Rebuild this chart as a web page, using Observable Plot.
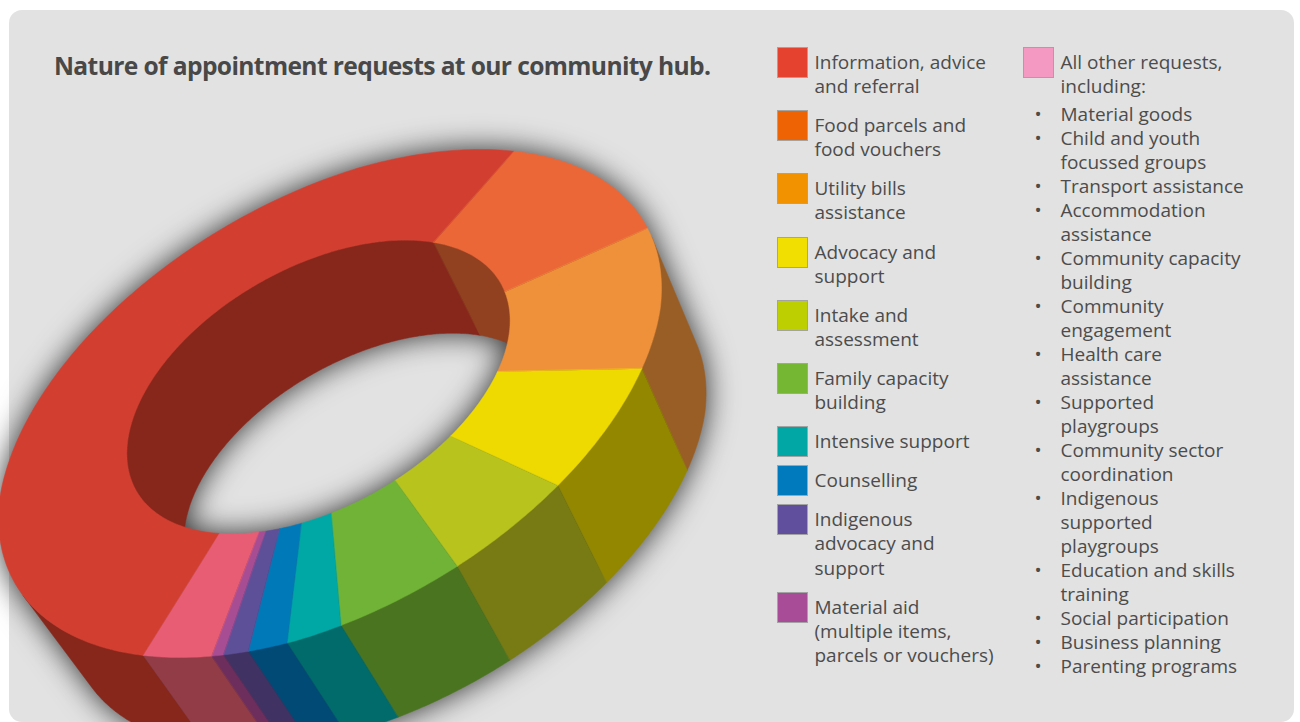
<!DOCTYPE html>
<html>
<head>
<meta charset="utf-8">
<script src="https://cdn.jsdelivr.net/npm/d3@7"></script>
<script src="https://cdn.jsdelivr.net/npm/@observablehq/plot@0.6"></script>
<style>
  html, body { margin: 0; padding: 0; background: #fff; }
  #page { position: relative; width: 1300px; height: 722px; overflow: hidden; font-family: "Open Sans", sans-serif; color: #4c4c4c; }
  #panel { position: absolute; left: 9px; top: 10px; width: 1285px; height: 712px; background: #e2e2e2; border-radius: 13px; }
  #chart { position: absolute; left: 0; top: 0; }
  #title { position: absolute; left: 54px; top: 48px; margin: 0; font-size: 24.6px; line-height: 36px; font-weight: 700; letter-spacing: -0.62px; white-space: nowrap; color: #484848; }
  .legend { position: absolute; top: 50px; font-size: 19px; }
  .item { position: relative; margin-bottom: 15px; white-space: pre-line; }
  .swatch { position: absolute; left: -38px; top: -3px; width: 29px; height: 29px; border: 1.5px solid #a3a3a3; }
  #col1 { left: 814.5px; width: 200px; line-height: 24.1px; }
  #col2 { left: 1060.5px; width: 235px; line-height: 24px; }
  #col2 .item { margin-bottom: 4px; }
  #others { list-style: none; margin: 0; padding: 0; }
  #others li { position: relative; white-space: pre-line; }
  #others li::before { content: "•"; position: absolute; left: -26px; font-size: 19px; }
</style>
</head>
<body>
<div id="page">
  <div id="panel"></div>
  <div id="chart"></div>
  <h1 id="title"></h1>
  <div class="legend" id="col1"></div>
  <div class="legend" id="col2"></div>
</div>
<script>
// Appointment request categories, clockwise round the ring
const categories = [
  "Information, advice\nand referral",
  "Food parcels and\nfood vouchers",
  "Utility bills\nassistance",
  "Advocacy and\nsupport",
  "Intake and\nassessment",
  "Family capacity\nbuilding",
  "Intensive support",
  "Counselling",
  "Indigenous\nadvocacy and\nsupport",
  "Material aid\n(multiple items,\nparcels or vouchers)",
  "All other requests,\nincluding:"
];
// Share of all requests, in percent
const shares = [49.85, 11.0, 9.9, 7.5, 5.9, 5.8, 2.6, 1.9, 1.25, 0.6, 3.7];

const swatchColors = ["#e5432f", "#ee6405", "#f39200", "#f0df00", "#bdcf00", "#75b632", "#00a7a4", "#0079bd", "#5f4f9d", "#a84c97", "#f49ac2"];
const topColors = ["#d23f31", "#ec6738", "#ef913b", "#eeda00", "#b8c31e", "#70b336", "#00a8a5", "#0079b9", "#5e4f99", "#a64d94", "#e85d73"];
const wallColors = ["#87271b", "#914120", "#985e26", "#938700", "#787b14", "#4b7421", "#006b6a", "#004a75", "#403262", "#6d2e5d", "#913c46"];

const otherRequests = [
  "Material goods",
  "Child and youth\nfocussed groups",
  "Transport assistance",
  "Accommodation\nassistance",
  "Community capacity\nbuilding",
  "Community\nengagement",
  "Health care\nassistance",
  "Supported\nplaygroups",
  "Community sector\ncoordination",
  "Indigenous\nsupported\nplaygroups",
  "Education and skills\ntraining",
  "Social participation",
  "Business planning",
  "Parenting programs"
];

const titleText = "Nature of appointment requests at our community hub.";

// Tilted-disc view: the two ring ellipses plus a vanishing point for the extrusion
const view = {
  start: 124.3,
  outer: {cx: 329.5, cy: 403, scale: 1},
  inner: {cx: 318, cy: 386.5, scale: 0.578},
  axisX: 331.5, shear: -115, axisY: 226.5,
  vanish: [1804, 2976],
  outerDepth: 0.039,
  innerDepth: 0.034
};

const rad = Math.PI / 180;

function onEllipse(e, deg, radial = 1) {
  const u = radial * Math.cos(deg * rad), v = radial * Math.sin(deg * rad);
  return [
    e.cx + e.scale * view.axisX * u,
    e.cy + e.scale * (view.shear * u + view.axisY * v)
  ];
}
// The near edge of the disc is a touch flatter than a true ellipse
const outerPoint = (deg) => onEllipse(view.outer, deg, 1 - 0.011 * Math.max(0, Math.cos(2 * (deg - 50) * rad)));
// Slice edges converge off-centre, so the inner rim angle drifts a little
const innerPoint = (deg) => onEllipse(view.inner, deg + 3.4 * Math.cos((deg + 35) * rad));
const extrude = ([x, y], k) => [x + k * (view.vanish[0] - x), y + k * (view.vanish[1] - y)];

// Turn the shares into slice angle spans
const total = d3.sum(shares);
let cursor = view.start;
const spans = shares.map((s) => {
  const from = cursor;
  cursor += (s / total) * 360;
  return [from, cursor];
});

function arcAngles([from, to], step) {
  const n = Math.max(2, Math.ceil((to - from) / step));
  return d3.range(n + 1).map((i) => from + ((to - from) * i) / n);
}

const rows = [];
function addPolygon(id, fill, pts) {
  pts.forEach(([x, y]) => rows.push({id, fill, x, y}));
}

// One wall polygon per slice, limited to the part of the arc that faces the viewer
function addWall(id, fill, angles, rim, depth, facing) {
  const kept = new Set();
  d3.pairs(angles).forEach(([a, b]) => {
    const pa = rim(a), pb = rim(b);
    const quad = [pa, pb, extrude(pb, depth), extrude(pa, depth)];
    if (d3.polygonArea(quad) * facing > 0) { kept.add(a); kept.add(b); }
  });
  const arc = angles.filter((a) => kept.has(a)).map(rim);
  if (arc.length) addPolygon(id, fill, [...arc, ...arc.slice().reverse().map((p) => extrude(p, depth))]);
}

spans.forEach((span, i) => {
  const angles = arcAngles(span, 0.5);
  addWall(`outer-${i}`, wallColors[i], angles, outerPoint, view.outerDepth, 1);
  addWall(`inner-${i}`, wallColors[i], angles, innerPoint, view.innerDepth, -1);
});

// Top face of each slice
spans.forEach((span, i) => {
  const angles = arcAngles(span, 1);
  addPolygon(`top-${i}`, topColors[i], [
    ...angles.map(outerPoint),
    ...angles.slice().reverse().map(innerPoint)
  ]);
});

const plot = Plot.plot({
  width: 1300,
  height: 722,
  margin: 0,
  style: {background: "transparent", overflow: "visible"},
  x: {domain: [0, 1300], range: [0, 1300], axis: null},
  y: {domain: [0, 722], range: [0, 722], axis: null},
  color: {type: "identity"},
  marks: [
    Plot.line(rows, {
      x: "x",
      y: "y",
      z: "id",
      fill: "fill",
      stroke: "fill",
      strokeWidth: 0.5,
      curve: "linear-closed",
      imageFilter: "drop-shadow(0 0 15px rgba(0,0,0,0.8))"
    })
  ]
});
document.getElementById("chart").append(plot);

document.getElementById("title").textContent = titleText;

const col1 = d3.select("#col1");
const col2 = d3.select("#col2");
categories.forEach((name, i) => {
  const target = i < categories.length - 1 ? col1 : col2;
  const item = target.append("div").attr("class", "item").text(name);
  item.append("span").attr("class", "swatch").style("background", swatchColors[i]);
});
col2.append("ul").attr("id", "others")
  .selectAll("li").data(otherRequests).join("li").text((d) => d);
</script>
</body>
</html>
